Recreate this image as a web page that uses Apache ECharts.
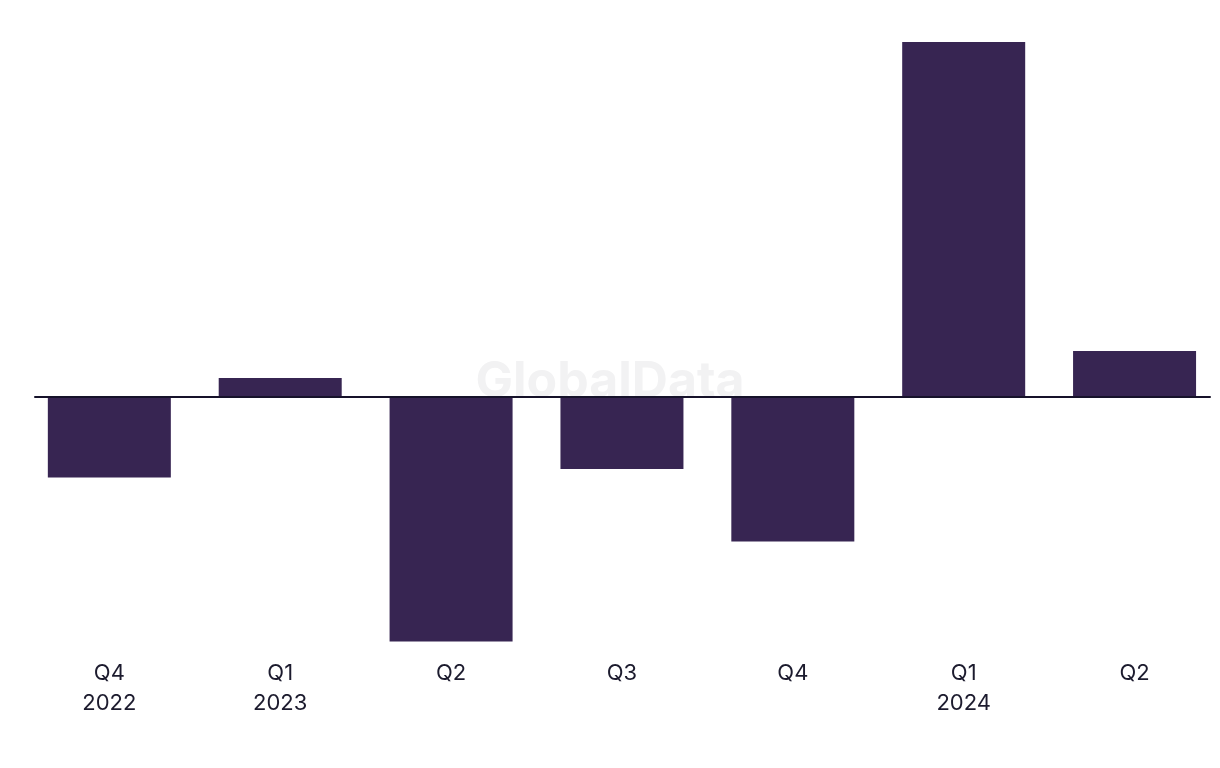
<!DOCTYPE html>
<html>
<head>
<meta charset="utf-8">
<script src="https://cdn.jsdelivr.net/npm/echarts@6/dist/echarts.min.js"></script>
<style>
html,body{margin:0;padding:0;background:#fff;}
#chart{width:1220px;height:768px;}
</style>
</head>
<body>
<div id="chart"></div>
<script>
const categories = ['Q4\n2022', 'Q1\n2023', 'Q2', 'Q3', 'Q4', 'Q1\n2024', 'Q2'];
const values = [-8.1, 1.85, -24.5, -7.25, -14.5, 35.45, 4.55];
const yMin = -24.5;
const yMax = 35.45;

const chart = echarts.init(document.getElementById('chart'), null, {renderer: 'canvas'});
chart.setOption({
  backgroundColor: '#ffffff',
  animation: false,
  graphic: [{
    type: 'text',
    left: 'center',
    top: 357,
    z: 0,
    style: {
      text: 'GlobalData',
      font: 'bold 50px "Inter", "Liberation Sans", sans-serif',
      fill: '#f2f2f3'
    }
  }],
  grid: [
    {left: 23.9, width: 1198.2, top: 42, height: 599.5, containLabel: false},
    {left: 35, right: 10, top: 42, height: 599.5, containLabel: false}
  ],
  xAxis: [
    {
      type: 'category',
      gridIndex: 0,
      data: categories,
      axisLine: {show: false, onZero: false},
      axisTick: {show: false},
      splitLine: {show: false},
      axisLabel: {
        margin: 17,
        fontSize: 22,
        lineHeight: 30,
        color: '#1c1b2e',
        fontFamily: 'Inter, "Liberation Sans", sans-serif',
        interval: 0
      }
    },
    {
      type: 'category',
      gridIndex: 1,
      data: categories,
      axisLine: {show: true, onZero: true, lineStyle: {color: '#16122a', width: 2}},
      axisTick: {show: false},
      axisLabel: {show: false},
      splitLine: {show: false},
      z: 10
    }
  ],
  yAxis: [
    {type: 'value', gridIndex: 0, min: yMin, max: yMax, show: false, splitLine: {show: false}},
    {type: 'value', gridIndex: 1, min: yMin, max: yMax, show: false, splitLine: {show: false}}
  ],
  series: [
    {
      type: 'bar',
      xAxisIndex: 0,
      yAxisIndex: 0,
      data: values,
      barWidth: 123,
      z: 2,
      itemStyle: {color: '#372552'}
    }
  ]
});
</script>
</body>
</html>
